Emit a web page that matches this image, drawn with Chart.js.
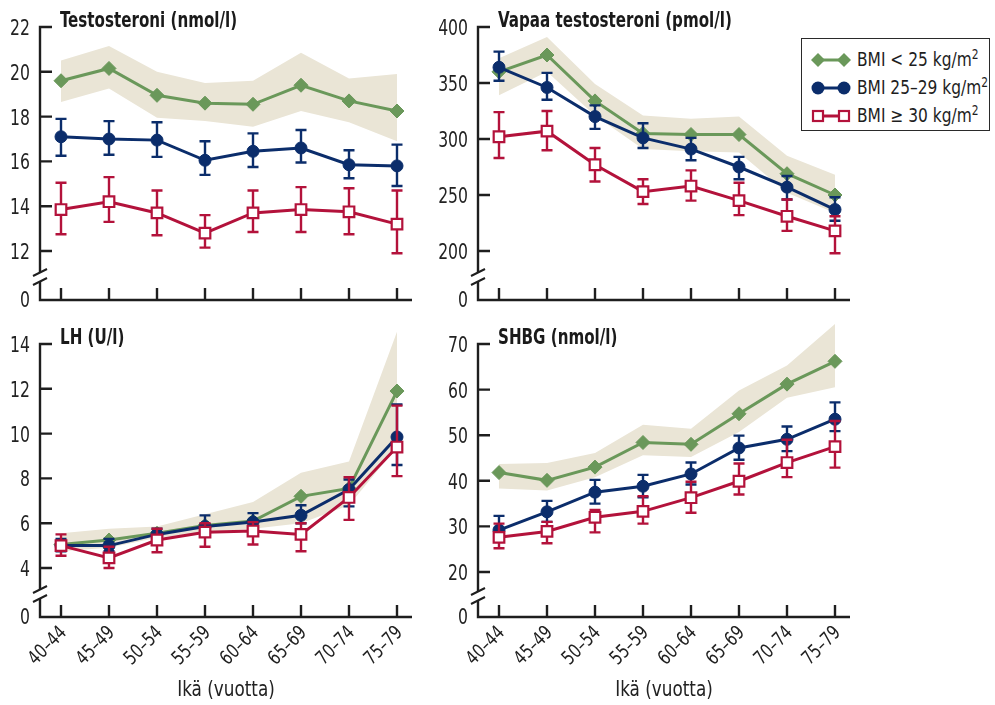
<!DOCTYPE html>
<html>
<head>
<meta charset="utf-8">
<script src="https://cdn.jsdelivr.net/npm/chart.js@4.4.0/dist/chart.umd.min.js"></script>
<style>
  html, body { margin: 0; padding: 0; background: #ffffff; }
  body { width: 995px; height: 705px; position: relative; overflow: hidden;
         font-family: 'DejaVu Sans Condensed', 'DejaVu Sans', sans-serif; color: #1e1e1e; }
  canvas { position: absolute; }
  .ptitle { position: absolute; font-weight: bold; font-size: 20.5px; line-height: 22px; white-space: nowrap; color: #1a1a1a;
            transform: scaleX(0.82); transform-origin: 0 0; }
  .xtitle { position: absolute; font-size: 21.5px; line-height: 24px; white-space: nowrap; color: #222;
            transform: translateX(-50%) scaleX(0.87); transform-origin: 50% 0; }
  #legend { position: absolute; left: 801px; top: 38px; width: 187px; height: 91px; border: 1.5px solid #2a2a2a; background: #fff; }
  .lrow { position: absolute; left: 0; height: 24px; width: 187px; }
  .lrow svg { position: absolute; left: 7px; top: 4px; }
  .lrow span { position: absolute; left: 55px; top: 0; font-size: 19.5px; line-height: 24px; white-space: nowrap;
               transform: scaleX(0.88); transform-origin: 0 0; }
  .lrow sup { font-size: 13.5px; vertical-align: 0; position: relative; top: -7px; }
</style>
</head>
<body>
<canvas id="c1" width="438" height="317" style="left:0px;top:0px"></canvas>
<canvas id="c2" width="557" height="317" style="left:438px;top:0px"></canvas>
<canvas id="c3" width="438" height="388" style="left:0px;top:317px"></canvas>
<canvas id="c4" width="557" height="388" style="left:438px;top:317px"></canvas>
<div id="legend"></div>
<script>
// ---------- DATA ----------
const categories = ['40–44', '45–49', '50–54', '55–59', '60–64', '65–69', '70–74', '75–79'];
const seriesNames = ['BMI < 25 kg/m²', 'BMI 25–29 kg/m²', 'BMI ≥ 30 kg/m²'];
const panelTitles = ['Testosteroni (nmol/l)', 'Vapaa testosteroni (pmol/l)', 'LH (U/l)', 'SHBG (nmol/l)'];
const xAxisTitle = 'Ikä (vuotta)';

// Testosteroni (nmol/l)
const testoTicks = [12, 14, 16, 18, 20, 22];
const testoGreen = [19.6, 20.15, 18.95, 18.6, 18.55, 19.4, 18.7, 18.25];
const testoGreenLow = [18.65, 19.25, 17.95, 17.8, 17.55, 18.25, 17.75, 16.9];
const testoGreenHigh = [20.5, 21.15, 20.0, 19.5, 19.6, 20.85, 19.7, 19.9];
const testoBlue = [17.1, 17.0, 16.95, 16.05, 16.45, 16.6, 15.85, 15.8];
const testoBlueLow = [16.25, 16.3, 16.2, 15.4, 15.75, 15.95, 15.25, 14.9];
const testoBlueHigh = [17.9, 17.8, 17.75, 16.9, 17.25, 17.4, 16.5, 16.75];
const testoRed = [13.85, 14.2, 13.7, 12.8, 13.7, 13.85, 13.75, 13.2];
const testoRedLow = [12.75, 13.3, 12.7, 12.15, 12.85, 12.85, 12.75, 11.9];
const testoRedHigh = [15.05, 15.3, 14.7, 13.6, 14.7, 14.85, 14.8, 14.7];

// Vapaa testosteroni (pmol/l)
const vapaaTicks = [200, 250, 300, 350, 400];
const vapaaGreen = [360, 375, 334, 305, 304, 304, 269, 250];
const vapaaGreenLow = [339, 360, 321, 291, 289, 288, 252, 234];
const vapaaGreenHigh = [372, 391, 349, 321, 318, 320, 285, 268];
const vapaaBlue = [364, 346, 320, 301, 291, 275, 257, 237];
const vapaaBlueLow = [352, 335, 309, 292, 281, 264, 246, 227];
const vapaaBlueHigh = [378, 359, 330, 314, 301, 284, 267, 248];
const vapaaRed = [302, 307, 277, 253, 258, 245, 231, 218];
const vapaaRedLow = [283, 290, 262, 242, 245, 232, 218, 198];
const vapaaRedHigh = [324, 325, 292, 264, 272, 261, 246, 231];

// LH (U/l)
const lhTicks = [4, 6, 8, 10, 12, 14];
const lhGreen = [5.05, 5.25, 5.55, 5.9, 6.1, 7.2, 7.55, 11.9];
const lhGreenLow = [4.75, 4.9, 5.35, 5.6, 5.75, 6.0, 6.8, 9.4];
const lhGreenHigh = [5.55, 5.75, 5.85, 6.4, 6.95, 8.25, 8.75, 14.55];
const lhBlue = [5.0, 5.0, 5.5, 5.85, 6.05, 6.35, 7.5, 9.85];
const lhBlueLow = [4.75, 4.75, 5.3, 5.4, 5.75, 6.0, 6.75, 8.6];
const lhBlueHigh = [5.3, 5.3, 5.75, 6.35, 6.45, 6.8, 7.95, 11.3];
const lhRed = [5.0, 4.45, 5.25, 5.6, 5.65, 5.5, 7.15, 9.4];
const lhRedLow = [4.55, 4.0, 4.7, 4.95, 5.05, 4.75, 6.15, 8.1];
const lhRedHigh = [5.5, 4.95, 5.75, 6.0, 6.05, 6.0, 8.05, 11.25];

// SHBG (nmol/l)
const shbgTicks = [20, 30, 40, 50, 60, 70];
const shbgGreen = [41.8, 40.1, 43.0, 48.4, 48.0, 54.7, 61.2, 66.2];
const shbgGreenLow = [38.3, 37.9, 40.8, 45.6, 45.2, 50.7, 58.2, 60.5];
const shbgGreenHigh = [43.7, 43.9, 46.1, 52.3, 51.4, 59.8, 65.3, 74.4];
const shbgBlue = [29.2, 33.2, 37.5, 38.8, 41.5, 47.2, 49.1, 53.5];
const shbgBlueLow = [28.5, 31.0, 35.0, 36.4, 39.2, 44.6, 46.5, 50.9];
const shbgBlueHigh = [32.3, 35.6, 40.2, 41.3, 44.0, 49.9, 51.9, 57.2];
const shbgRed = [27.6, 28.9, 32.0, 33.3, 36.3, 39.9, 44.0, 47.5];
const shbgRedLow = [25.2, 26.3, 28.7, 30.6, 33.0, 37.0, 40.8, 42.9];
const shbgRedHigh = [30.6, 31.0, 33.6, 36.6, 39.8, 43.8, 49.0, 53.1];

// ---------- STYLE ----------
const COLORS = { green: '#6A985A', band: '#EAE5D6', blue: '#0B2D6B', red: '#B3123B', axis: '#1E1E1E', text: '#222222' };
const FONT = "'DejaVu Sans Condensed', 'DejaVu Sans', sans-serif";
const AREA = { left: 40, right: 412, top: 27, bottom: 300 };
const EXTRA_TOP = 22;

function pts(arr) { return arr.map((y, i) => ({ x: i, y })); }

function drawText(ctx, text, x, y, o) {
  ctx.save();
  ctx.translate(x, y);
  if (o.rot) ctx.rotate(o.rot);
  ctx.scale(o.sx, 1);
  ctx.font = `${o.weight || 'normal'} ${o.size}px ${FONT}`;
  ctx.textAlign = o.align || 'left';
  ctx.textBaseline = o.baseline || 'alphabetic';
  ctx.fillStyle = o.color || COLORS.text;
  ctx.fillText(text, 0, 0);
  ctx.restore();
}

// ---------- PLUGINS ----------
const errorBarPlugin = {
  id: 'errorBars',
  beforeDatasetDraw(chart, args) {
    const ds = chart.data.datasets[args.index];
    if (!ds.errLow) return;
    const { ctx, scales: { x, y } } = chart;
    ctx.save();
    ctx.strokeStyle = ds.borderColor;
    ctx.lineWidth = 2.4;
    ds.errLow.forEach((lo, i) => {
      const hi = ds.errHigh[i];
      const px = x.getPixelForValue(i);
      const pl = y.getPixelForValue(lo), ph = y.getPixelForValue(hi);
      ctx.beginPath();
      ctx.moveTo(px, ph); ctx.lineTo(px, pl);
      ctx.moveTo(px - 5.5, ph); ctx.lineTo(px + 5.5, ph);
      ctx.moveTo(px - 5.5, pl); ctx.lineTo(px + 5.5, pl);
      ctx.stroke();
    });
    ctx.restore();
  }
};

const axesPlugin = {
  id: 'axesDraw',
  beforeDatasetsDraw(chart, args, opts) {
    const { ctx, chartArea: a, scales: { x, y } } = chart;
    const ticks = opts.ticks;
    const L = a.left;
    const yTop = y.getPixelForValue(ticks[ticks.length - 1]);
    const yb = a.bottom - opts.breakPx / 2 + 1.5;
    ctx.save();
    ctx.strokeStyle = COLORS.axis;
    ctx.lineWidth = 2.4;
    ctx.beginPath();
    ctx.moveTo(L, yTop - 1.2);
    ctx.lineTo(L, yb - 4.5);
    ctx.moveTo(L, yb + 4.5);
    ctx.lineTo(L, a.bottom + 1.2);
    ticks.forEach(v => {
      const py = y.getPixelForValue(v);
      ctx.moveTo(L, py); ctx.lineTo(L + 12, py);
    });
    ctx.moveTo(L - 1.2, a.bottom); ctx.lineTo(a.right, a.bottom);
    categories.forEach((c, i) => {
      const px = x.getPixelForValue(i);
      ctx.moveTo(px, a.bottom); ctx.lineTo(px, a.bottom - 12);
    });
    ctx.stroke();
    ctx.lineWidth = 2;
    [-4.5, 4.5].forEach(off => {
      ctx.beginPath();
      ctx.moveTo(L - 7, yb + off + 3.5);
      ctx.lineTo(L + 7, yb + off - 3.5);
      ctx.stroke();
    });
    ctx.restore();
  },
  afterDraw(chart, args, opts) {
    const { ctx, chartArea: a, scales: { x, y } } = chart;
    // y tick labels from the scale's own ticks
    y.ticks.forEach((t, i) => {
      const label = i === 0 ? '0' : String(t.value);
      const py = i === 0 ? a.bottom - 1 : y.getPixelForValue(t.value);
      drawText(ctx, label, a.left - 10, py + 8, { size: 22, sx: 0.79, align: 'right' });
    });
    if (opts.showX) {
      x.ticks.forEach(t => {
        const px = x.getPixelForValue(t.value);
        drawText(ctx, categories[t.value], px + 3, a.bottom + 13, { size: 19.5, sx: 0.85, align: 'right', baseline: 'middle', rot: -Math.PI / 4 });
      });
    }
  }
};

// ---------- PANELS ----------
const panels = [
  { id: 'c1', left: 0, top: 0, title: panelTitles[0], ticks: testoTicks, showX: false, innerPx: 224, breakPx: 49,
    g: testoGreen, gl: testoGreenLow, gh: testoGreenHigh, b: testoBlue, bl: testoBlueLow, bh: testoBlueHigh, r: testoRed, rl: testoRedLow, rh: testoRedHigh },
  { id: 'c2', left: 438, top: 0, title: panelTitles[1], ticks: vapaaTicks, showX: false, innerPx: 224, breakPx: 49,
    g: vapaaGreen, gl: vapaaGreenLow, gh: vapaaGreenHigh, b: vapaaBlue, bl: vapaaBlueLow, bh: vapaaBlueHigh, r: vapaaRed, rl: vapaaRedLow, rh: vapaaRedHigh },
  { id: 'c3', left: 0, top: 317, title: panelTitles[2], ticks: lhTicks, showX: true, innerPx: 224, breakPx: 49,
    g: lhGreen, gl: lhGreenLow, gh: lhGreenHigh, b: lhBlue, bl: lhBlueLow, bh: lhBlueHigh, r: lhRed, rl: lhRedLow, rh: lhRedHigh },
  { id: 'c4', left: 438, top: 317, title: panelTitles[3], ticks: shbgTicks, showX: true, innerPx: 228, breakPx: 45,
    g: shbgGreen, gl: shbgGreenLow, gh: shbgGreenHigh, b: shbgBlue, bl: shbgBlueLow, bh: shbgBlueHigh, r: shbgRed, rl: shbgRedLow, rh: shbgRedHigh }
];

panels.forEach(p => {
  const canvas = document.getElementById(p.id);
  const W = canvas.width, H = canvas.height;
  const lo = p.ticks[0], hi = p.ticks[p.ticks.length - 1];
  const unitPerPx = (hi - lo) / p.innerPx;
  const fakeMin = lo - p.breakPx * unitPerPx;
  const yMax = hi + EXTRA_TOP * unitPerPx;
  const xMin = -(21 / 48), xMax = 7 + 15 / 48;

  new Chart(canvas, {
    type: 'line',
    data: {
      datasets: [
        { label: 'band-high', data: pts(p.gh), borderWidth: 0, pointRadius: 0, backgroundColor: COLORS.band,
          fill: '+1', order: 5, clip: false },
        { label: 'band-low', data: pts(p.gl), borderWidth: 0, pointRadius: 0, fill: false, order: 4, clip: false },
        { label: seriesNames[0], data: pts(p.g), borderColor: COLORS.green, borderWidth: 3, tension: 0,
          pointStyle: 'rectRot', pointRadius: 7, pointBackgroundColor: COLORS.green, pointBorderColor: COLORS.green,
          pointBorderWidth: 1, fill: false, order: 3, clip: false },
        { label: seriesNames[1], data: pts(p.b), borderColor: COLORS.blue, borderWidth: 3, tension: 0,
          pointStyle: 'circle', pointRadius: 6, pointBackgroundColor: COLORS.blue, pointBorderColor: COLORS.blue,
          pointBorderWidth: 1, fill: false, order: 2, clip: false, errLow: p.bl, errHigh: p.bh },
        { label: seriesNames[2], data: pts(p.r), borderColor: COLORS.red, borderWidth: 3, tension: 0,
          pointStyle: 'rect', pointRadius: 7.5, pointBackgroundColor: '#ffffff', pointBorderColor: COLORS.red,
          pointBorderWidth: 2.2, fill: false, order: 1, clip: false, errLow: p.rl, errHigh: p.rh }
      ]
    },
    options: {
      responsive: false,
      animation: false,
      devicePixelRatio: 1,
      events: [],
      layout: { autoPadding: false, padding: { left: 0, top: AREA.top - EXTRA_TOP, right: W - AREA.right, bottom: 0 } },
      plugins: {
        legend: { display: false },
        tooltip: { enabled: false },
        title: { display: false },
        axesDraw: { ticks: p.ticks, showX: p.showX, breakPx: p.breakPx }
      },
      scales: {
        x: {
          type: 'linear', min: xMin, max: xMax,
          grid: { display: false, drawTicks: false }, border: { display: false },
          afterBuildTicks: s => { s.ticks = categories.map((c, i) => ({ value: i })); },
          afterFit: s => { s.height = H - AREA.bottom; },
          ticks: { display: false, autoSkip: false, callback: v => categories[v] }
        },
        y: {
          type: 'linear', min: fakeMin, max: yMax,
          grid: { display: false, drawTicks: false }, border: { display: false },
          afterBuildTicks: s => { s.ticks = [fakeMin].concat(p.ticks).map(v => ({ value: v })); },
          afterFit: s => { s.width = AREA.left; },
          ticks: { display: false, callback: (v, i) => (i === 0 ? '0' : String(v)) }
        }
      }
    },
    plugins: [axesPlugin, errorBarPlugin]
  });

  const t = document.createElement('div');
  t.className = 'ptitle';
  t.textContent = p.title;
  t.style.left = (p.left + 60) + 'px';
  t.style.top = (p.top + 9) + 'px';
  document.body.appendChild(t);

  if (p.showX) {
    const xt = document.createElement('div');
    xt.className = 'xtitle';
    xt.textContent = xAxisTitle;
    xt.style.left = (p.left + (AREA.left + AREA.right) / 2) + 'px';
    xt.style.top = (p.top + 360) + 'px';
    document.body.appendChild(xt);
  }
});

// ---------- LEGEND ----------
const legendStyles = [
  { color: COLORS.green, marker: 'diamond' },
  { color: COLORS.blue, marker: 'circle' },
  { color: COLORS.red, marker: 'square' }
];
const legend = document.getElementById('legend');
seriesNames.forEach((name, i) => {
  const st = legendStyles[i];
  const row = document.createElement('div');
  row.className = 'lrow';
  row.style.top = (9 + i * 28) + 'px';
  const m = (cx) => {
    if (st.marker === 'diamond') return `<polygon points="${cx},1 ${cx + 7},8 ${cx},15 ${cx - 7},8" fill="${st.color}"/>`;
    if (st.marker === 'circle') return `<circle cx="${cx}" cy="8" r="6.5" fill="${st.color}"/>`;
    return `<rect x="${cx - 5}" y="3" width="10" height="10" fill="#fff" stroke="${st.color}" stroke-width="2.2"/>`;
  };
  row.innerHTML = `<svg width="44" height="16" viewBox="0 0 44 16"><line x1="9" y1="8" x2="35" y2="8" stroke="${st.color}" stroke-width="3"/>${m(9)}${m(35)}</svg>`;
  const span = document.createElement('span');
  span.appendChild(document.createTextNode(name.replace('²', '')));
  const sup = document.createElement('sup');
  sup.textContent = '2';
  span.appendChild(sup);
  row.appendChild(span);
  legend.appendChild(row);
});
</script>
</body>
</html>
